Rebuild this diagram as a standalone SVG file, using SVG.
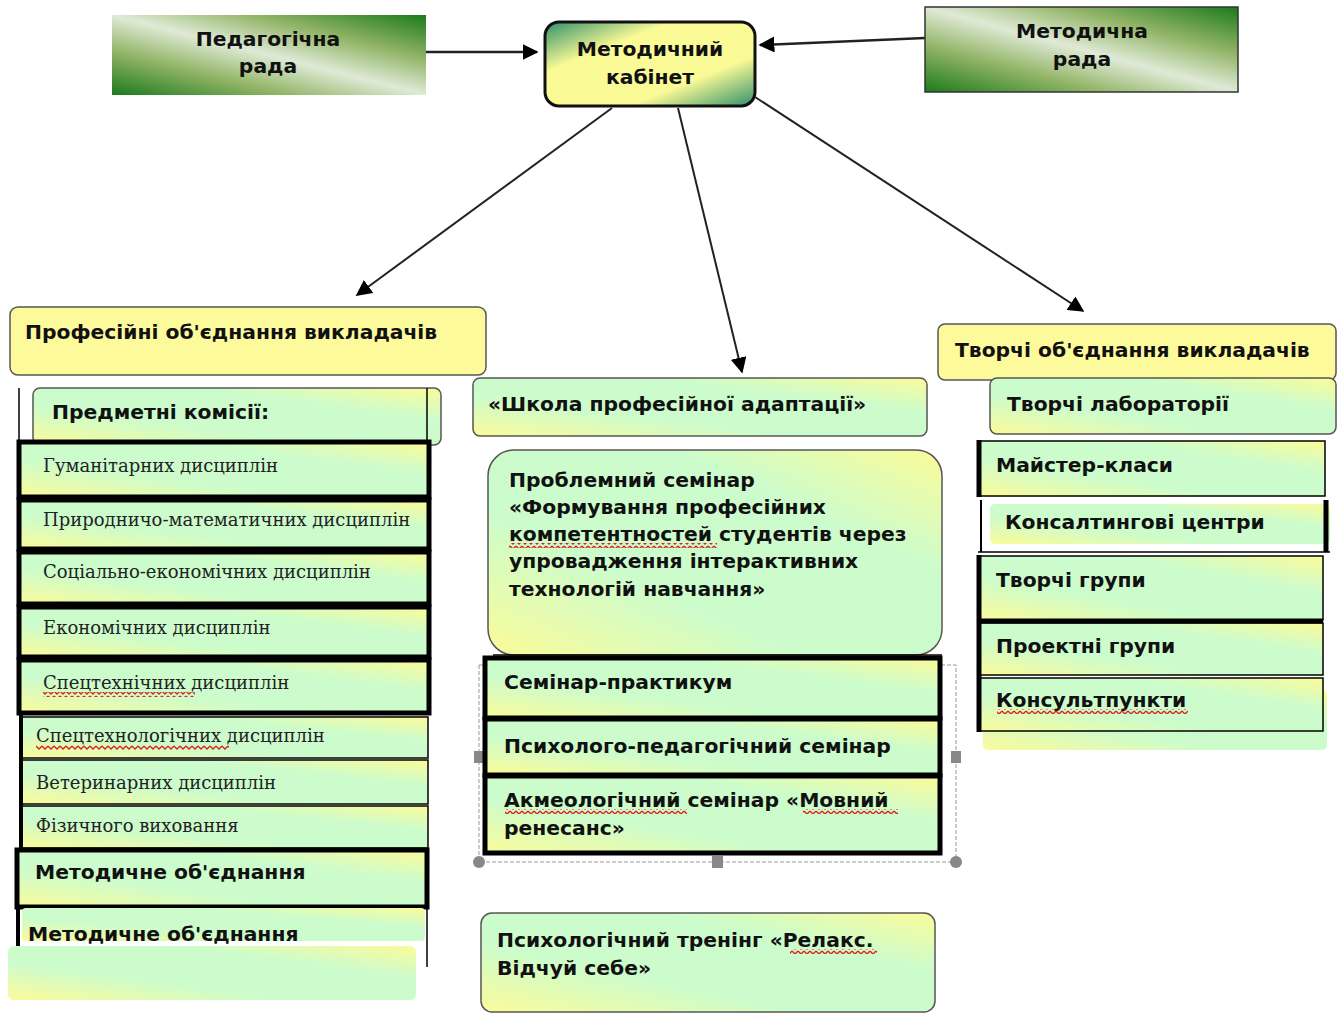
<svg xmlns="http://www.w3.org/2000/svg" width="1340" height="1013" viewBox="0 0 1340 1013">
<defs>
<linearGradient id="gGreen" x1="0" y1="1" x2="1" y2="0">
<stop offset="0" stop-color="#1c7a1c"/>
<stop offset="0.28" stop-color="#93b568"/>
<stop offset="0.5" stop-color="#dfead6"/>
<stop offset="0.72" stop-color="#93b568"/>
<stop offset="1" stop-color="#1c7a1c"/>
</linearGradient>
<linearGradient id="gCab" x1="0" y1="0" x2="1" y2="1">
<stop offset="0" stop-color="#2f8f6a"/>
<stop offset="0.3" stop-color="#fafa96"/>
<stop offset="0.7" stop-color="#fafa96"/>
<stop offset="1" stop-color="#2f8f6a"/>
</linearGradient>
<linearGradient id="gYG" x1="0" y1="1" x2="1" y2="0">
<stop offset="0" stop-color="#fbfb99"/>
<stop offset="0.35" stop-color="#ccfccc"/>
<stop offset="0.7" stop-color="#ccfccc"/>
<stop offset="1" stop-color="#fbfb99"/>
</linearGradient>
<pattern id="wave" width="6" height="5" patternUnits="userSpaceOnUse">
<path d="M0,1 L3,4 L6,1" fill="none" stroke="#e02020" stroke-width="1.3"/>
</pattern>
<marker id="arrB" viewBox="0 0 10 10" refX="9" refY="5" markerWidth="16" markerHeight="16" orient="auto" markerUnits="userSpaceOnUse">
<path d="M0,0 L10,5 L0,10 z" fill="#000"/>
</marker>
</defs>
<style>
.b{font-family:"DejaVu Sans","Verdana",sans-serif;font-weight:bold;font-size:20.3px;fill:#111}
.s{font-family:"DejaVu Serif","Liberation Serif",serif;font-size:18px;fill:#222}
.yel{fill:#fdfa9c;stroke:#555;stroke-width:1.5}
.yg{fill:url(#gYG);stroke:#555;stroke-width:1.5}
.thk{fill:url(#gYG);stroke:#000;stroke-width:5}
.thn{fill:url(#gYG);stroke:#000;stroke-width:1.5}
.wav{fill:url(#wave)}
.ln{stroke:#000;fill:none}
</style>
<rect width="1340" height="1013" fill="#fff"/>

<g id="connectors">
<line x1="426" y1="52" x2="537" y2="52" stroke="#222" stroke-width="2.5" marker-end="url(#arrB)"/>
<line x1="925" y1="38" x2="760" y2="45" stroke="#222" stroke-width="2.5" marker-end="url(#arrB)"/>
<line x1="612" y1="108" x2="357" y2="295" stroke="#222" stroke-width="2" marker-end="url(#arrB)"/>
<line x1="678" y1="108" x2="742" y2="372" stroke="#222" stroke-width="2" marker-end="url(#arrB)"/>
<line x1="755" y1="97" x2="1083" y2="311" stroke="#222" stroke-width="2" marker-end="url(#arrB)"/>
</g>

<g id="ped-rada">
<rect x="112" y="15" width="314" height="80" fill="url(#gGreen)"/>
<text class="b" x="268" y="46" text-anchor="middle">Педагогічна</text>
<text class="b" x="268" y="73" text-anchor="middle">рада</text>
</g>
<g id="met-kabinet">
<rect x="545" y="22" width="210" height="84" rx="14" fill="url(#gCab)" stroke="#111" stroke-width="3"/>
<text class="b" x="650" y="56" text-anchor="middle">Методичний</text>
<text class="b" x="650" y="84" text-anchor="middle">кабінет</text>
</g>
<g id="met-rada">
<rect x="925" y="7" width="313" height="85" fill="url(#gGreen)" stroke="#333" stroke-width="1.5"/>
<text class="b" x="1082" y="38" text-anchor="middle">Методична</text>
<text class="b" x="1082" y="66" text-anchor="middle">рада</text>
</g>

<!-- Left column -->
<g id="prof-ob">
<rect class="yel" x="10" y="307" width="476" height="68" rx="8"/>
<text class="b" x="25" y="339">Професійні об'єднання викладачів</text>
</g>
<g id="left-frame">
<line class="ln" x1="19" y1="388" x2="19" y2="442" stroke-width="1.5"/>
<line class="ln" x1="18" y1="905" x2="18" y2="967" stroke-width="4"/>
<line class="ln" x1="427" y1="907" x2="427" y2="967" stroke-width="1.5"/>
</g>
<g id="predm-komisii">
<rect class="yg" x="33" y="388" width="408" height="57" rx="7"/>
<line class="ln" x1="427" y1="388" x2="427" y2="441" stroke-width="1.5"/>
<text class="b" x="52" y="419">Предметні комісії:</text>
</g>
<g id="gum">
<rect class="thk" x="19" y="442" width="410" height="55"/>
<text class="s" x="43" y="472">Гуманітарних дисциплін</text>
</g>
<g id="pryr">
<rect class="thk" x="19" y="500" width="410" height="49"/>
<text class="s" x="43" y="526">Природничо-математичних дисциплін</text>
</g>
<g id="sots">
<rect class="thk" x="19" y="552" width="410" height="52"/>
<text class="s" x="43" y="578">Соціально-економічних дисциплін</text>
</g>
<g id="ekon">
<rect class="thk" x="19" y="607" width="410" height="50"/>
<text class="s" x="43" y="634">Економічних дисциплін</text>
</g>
<g id="spetstekhn">
<rect class="thk" x="19" y="660" width="410" height="53"/>
<text class="s" x="43" y="689">Спецтехнічних дисциплін</text>
<rect class="wav" x="43" y="692" width="152" height="5"/>
</g>
<g id="spetstekhnol">
<rect class="thn" x="22" y="717" width="406" height="41"/>
<line class="ln" x1="21" y1="715" x2="21" y2="760" stroke-width="4"/>
<text class="s" x="36" y="742">Спецтехнологічних дисциплін</text>
<rect class="wav" x="36" y="745" width="193" height="5"/>
</g>
<g id="veter">
<rect class="thn" x="22" y="760" width="406" height="44"/>
<line class="ln" x1="21" y1="758" x2="21" y2="806" stroke-width="4"/>
<text class="s" x="36" y="789">Ветеринарних  дисциплін</text>
</g>
<g id="fizych">
<rect class="thn" x="22" y="806" width="406" height="42"/>
<line class="ln" x1="21" y1="804" x2="21" y2="850" stroke-width="4"/>
<text class="s" x="36" y="832">Фізичного виховання</text>
</g>
<g id="met-ob-1">
<rect class="thk" x="17" y="850" width="410" height="57"/>
<text class="b" x="35" y="879">Методичне об'єднання</text>
</g>
<g id="met-ob-2">
<rect x="22" y="908" width="403" height="33" rx="4" fill="url(#gYG)"/>
<rect x="8" y="946" width="408" height="54" rx="6" fill="url(#gYG)"/>
<text class="b" x="28" y="941">Методичне об'єднання</text>
</g>

<!-- Middle column -->
<g id="shkola">
<rect class="yg" x="473" y="378" width="454" height="58" rx="7"/>
<text class="b" x="488" y="411">«Школа професійної адаптації»</text>
</g>
<g id="problemnyi">
<rect class="yg" x="488" y="450" width="454" height="205" rx="26"/>
<text class="b" x="509" y="487">Проблемний семінар</text>
<text class="b" x="509" y="514">«Формування професійних</text>
<text class="b" x="509" y="541">компетентностей студентів через</text>
<text class="b" x="509" y="568">упровадження інтерактивних</text>
<text class="b" x="509" y="596">технологій навчання»</text>
<rect class="wav" x="509" y="543" width="208" height="5"/>
</g>
<g id="selection">
<rect x="479" y="665" width="477" height="197" fill="none" stroke="#999" stroke-width="1" stroke-dasharray="4,2"/>
<rect x="474" y="751" width="10" height="12" fill="#888"/>
<rect x="951" y="751" width="10" height="12" fill="#888"/>
<rect x="712" y="856" width="11" height="12" fill="#888"/>
<circle cx="479" cy="862" r="6" fill="#888"/>
<circle cx="956" cy="862" r="6" fill="#888"/>
</g>
<line class="ln" x1="493" y1="655" x2="942" y2="655" stroke-width="1.5"/>
<g id="sem-prakt">
<rect class="thk" x="485" y="658" width="455" height="60"/>
<text class="b" x="504" y="689">Семінар-практикум</text>
</g>
<g id="psykh-ped">
<rect class="thk" x="485" y="719" width="455" height="56"/>
<text class="b" x="504" y="753">Психолого-педагогічний семінар</text>
</g>
<g id="akmeol">
<rect class="thk" x="485" y="776" width="455" height="77"/>
<text class="b" x="504" y="807">Акмеологічний семінар «Мовний</text>
<text class="b" x="504" y="835">ренесанс»</text>
<rect class="wav" x="505" y="809" width="182" height="5"/>
<rect class="wav" x="803" y="809" width="95" height="5"/>
</g>
<g id="trening">
<rect class="yg" x="481" y="913" width="454" height="99" rx="11"/>
<text class="b" x="497" y="947">Психологічний тренінг «Релакс.</text>
<text class="b" x="497" y="975">Відчуй себе»</text>
<rect class="wav" x="790" y="949" width="87" height="5"/>
</g>

<!-- Right column -->
<g id="tvorchi-ob">
<rect class="yel" x="938" y="324" width="398" height="56" rx="7"/>
<text class="b" x="955" y="357">Творчі об'єднання викладачів</text>
</g>
<g id="tvorchi-lab">
<rect class="yg" x="990" y="378" width="346" height="56" rx="7"/>
<text class="b" x="1007" y="411">Творчі лабораторії</text>
</g>
<g id="maister">
<rect class="thn" x="978" y="441" width="347" height="55" stroke-width="2"/>
<line class="ln" x1="979" y1="440" x2="979" y2="497" stroke-width="5"/>
<text class="b" x="996" y="472">Майстер-класи</text>
</g>
<g id="konsalt">
<rect x="990" y="504" width="340" height="40" rx="5" fill="url(#gYG)"/>
<line class="ln" x1="981" y1="500" x2="981" y2="552" stroke-width="2"/>
<line class="ln" x1="1326" y1="500" x2="1326" y2="552" stroke-width="5"/>
<line class="ln" x1="978" y1="552" x2="1330" y2="552" stroke-width="1.5"/>
<text class="b" x="1005" y="529">Консалтингові центри</text>
</g>
<g id="tvorchi-hrupy">
<rect x="983" y="690" width="344" height="60" rx="5" fill="url(#gYG)"/>
<rect class="thn" x="978" y="556" width="345" height="64" stroke-width="2"/>
<line class="ln" x1="979" y1="555" x2="979" y2="622" stroke-width="5"/>
<text class="b" x="996" y="587">Творчі групи</text>
</g>
<g id="proektni">
<rect class="thn" x="978" y="623" width="345" height="52" stroke-width="2"/>
<line class="ln" x1="978" y1="621" x2="1323" y2="621" stroke-width="5"/>
<line class="ln" x1="979" y1="622" x2="979" y2="677" stroke-width="5"/>
<text class="b" x="996" y="653">Проектні групи</text>
</g>
<g id="konsultpunkty">
<rect class="thn" x="978" y="678" width="345" height="53" stroke-width="2.5"/>
<line class="ln" x1="979" y1="677" x2="979" y2="732" stroke-width="5"/>
<text class="b" x="996" y="707">Консультпункти</text>
<rect class="wav" x="997" y="709" width="191" height="5"/>
</g>
</svg>
